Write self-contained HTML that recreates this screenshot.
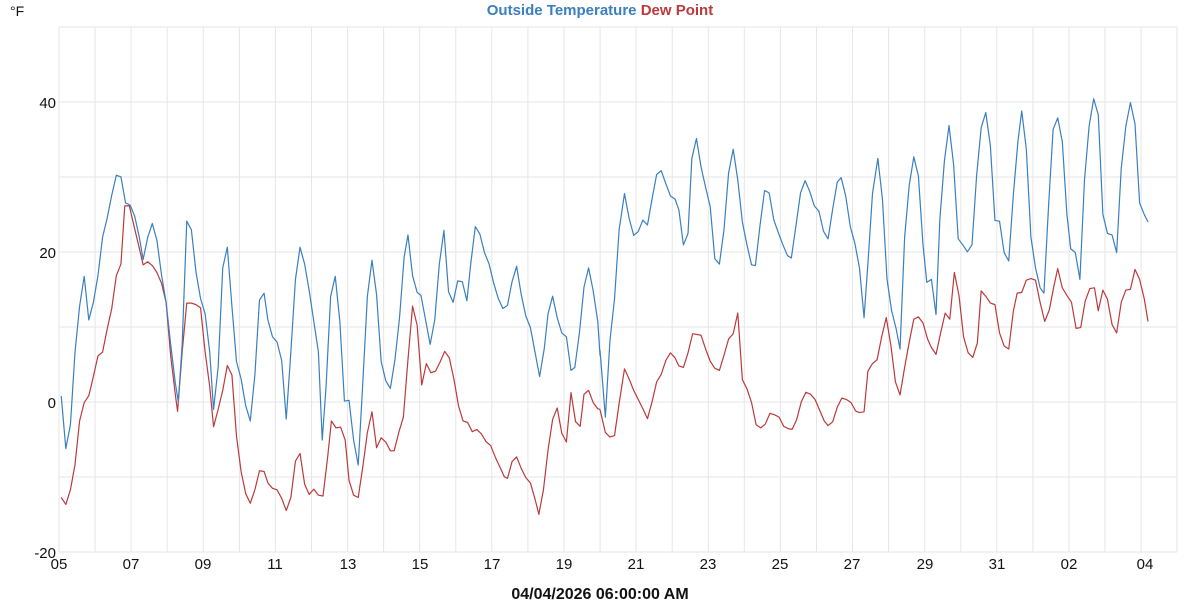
<!DOCTYPE html>
<html><head><meta charset="utf-8"><style>
body{margin:0;background:#fff;}
svg{display:block;font-family:"Liberation Sans",sans-serif;}
</style></head><body>
<svg width="1200" height="600" viewBox="0 0 1200 600">
<rect width="1200" height="600" fill="#fff"/>
<g stroke="#e6e6e6" stroke-width="1">
<line x1="59" y1="27" x2="1177" y2="27"/><line x1="59" y1="102" x2="1177" y2="102"/><line x1="59" y1="177" x2="1177" y2="177"/><line x1="59" y1="252" x2="1177" y2="252"/><line x1="59" y1="327" x2="1177" y2="327"/><line x1="59" y1="402" x2="1177" y2="402"/><line x1="59" y1="477" x2="1177" y2="477"/><line x1="59" y1="552" x2="1177" y2="552"/>
<line x1="1177" y1="27" x2="1177" y2="552"/>
<line x1="59" y1="27" x2="59" y2="552"/><line x1="95.1" y1="27" x2="95.1" y2="552"/><line x1="131.1" y1="27" x2="131.1" y2="552"/><line x1="167.2" y1="27" x2="167.2" y2="552"/><line x1="203.3" y1="27" x2="203.3" y2="552"/><line x1="239.4" y1="27" x2="239.4" y2="552"/><line x1="275.4" y1="27" x2="275.4" y2="552"/><line x1="311.5" y1="27" x2="311.5" y2="552"/><line x1="347.6" y1="27" x2="347.6" y2="552"/><line x1="383.6" y1="27" x2="383.6" y2="552"/><line x1="419.7" y1="27" x2="419.7" y2="552"/><line x1="455.8" y1="27" x2="455.8" y2="552"/><line x1="491.8" y1="27" x2="491.8" y2="552"/><line x1="527.9" y1="27" x2="527.9" y2="552"/><line x1="564" y1="27" x2="564" y2="552"/><line x1="600.1" y1="27" x2="600.1" y2="552"/><line x1="636.1" y1="27" x2="636.1" y2="552"/><line x1="672.2" y1="27" x2="672.2" y2="552"/><line x1="708.3" y1="27" x2="708.3" y2="552"/><line x1="744.3" y1="27" x2="744.3" y2="552"/><line x1="780.4" y1="27" x2="780.4" y2="552"/><line x1="816.5" y1="27" x2="816.5" y2="552"/><line x1="852.5" y1="27" x2="852.5" y2="552"/><line x1="888.6" y1="27" x2="888.6" y2="552"/><line x1="924.7" y1="27" x2="924.7" y2="552"/><line x1="960.8" y1="27" x2="960.8" y2="552"/><line x1="996.8" y1="27" x2="996.8" y2="552"/><line x1="1032.9" y1="27" x2="1032.9" y2="552"/><line x1="1069" y1="27" x2="1069" y2="552"/><line x1="1105" y1="27" x2="1105" y2="552"/><line x1="1141.1" y1="27" x2="1141.1" y2="552"/>
</g>
<g font-size="15" fill="#111">
<text x="10" y="16" font-size="14">°F</text>
<text x="56" y="108" text-anchor="end">40</text>
<text x="56" y="258" text-anchor="end">20</text>
<text x="56" y="408" text-anchor="end">0</text>
<text x="56" y="558" text-anchor="end">-20</text>
</g>
<g font-size="15" fill="#111" text-anchor="middle">
<text x="59" y="569">05</text><text x="131" y="569">07</text><text x="203" y="569">09</text><text x="275" y="569">11</text><text x="348" y="569">13</text><text x="420" y="569">15</text><text x="492" y="569">17</text><text x="564" y="569">19</text><text x="636" y="569">21</text><text x="708" y="569">23</text><text x="780" y="569">25</text><text x="852" y="569">27</text><text x="925" y="569">29</text><text x="997" y="569">31</text><text x="1069" y="569">02</text><text x="1145" y="569">04</text>
</g>
<text x="600" y="599" text-anchor="middle" font-size="16" font-weight="bold" fill="#111">04/04/2026 06:00:00 AM</text>
<text x="600" y="15" text-anchor="middle" font-size="15" font-weight="bold"><tspan fill="#3a7fc0">Outside Temperature</tspan> <tspan fill="#bb3a3c">Dew Point</tspan></text>
<g fill="none" stroke-width="1.2" stroke-linejoin="round">
<g transform="scale(0.3827)">
<polyline vector-effect="non-scaling-stroke" stroke="#bb3a3c" points="160,1300 172,1318 184,1280 196,1214 208,1100 220,1052 232,1034 244,984 256,930 268,920 280,860 292,806 304,720 316,690 326,538 338,538 350,590 362,640 374,692 386,684 398,694 410,712 422,740 434,790 446,930 458,1030 464,1075 476,920 488,792 500,792 512,796 524,804 536,920 548,1010 558,1115 570,1070 582,1020 594,955 606,980 618,1140 630,1232 642,1290 654,1315 666,1280 678,1230 690,1232 700,1262 712,1276 724,1280 736,1302 748,1334 760,1300 772,1205 784,1185 796,1265 808,1292 820,1278 832,1294 844,1296 856,1196 866,1100 878,1118 890,1116 902,1150 912,1255 924,1294 936,1300 948,1220 960,1130 972,1076 984,1170 996,1144 1008,1155 1020,1178 1030,1178 1042,1130 1054,1090 1066,940 1078,800 1090,850 1102,1006 1114,950 1126,974 1138,970 1150,946 1162,918 1174,935 1186,990 1198,1060 1210,1100 1222,1104 1234,1128 1246,1122 1258,1134 1270,1154 1282,1164 1294,1194 1306,1220 1318,1246 1326,1250 1338,1206 1350,1194 1362,1224 1374,1248 1386,1262 1398,1304 1408,1344 1420,1280 1432,1176 1444,1096 1456,1066 1468,1132 1480,1155 1492,1026 1504,1102 1516,1114 1526,1030 1538,1020 1550,1052 1562,1068 1568,1070"/>
<polyline vector-effect="non-scaling-stroke" stroke="#3a7fc0" points="160,1035 172,1172 184,1110 196,920 208,800 220,722 232,836 244,790 256,720 268,620 280,570 292,510 304,458 316,462 328,530 340,536 352,565 364,620 374,678 386,620 398,584 410,628 422,718 434,790 446,900 458,1000 466,1050 476,900 488,578 500,600 512,710 524,780 536,820 548,920 558,1070 570,960 582,700 594,646 606,800 618,945 630,990 642,1060 654,1100 666,980 678,784 690,766 700,836 712,880 724,894 736,942 748,1095 760,920 772,730 784,646 796,690 808,760 820,840 832,920 842,1150 852,1010 864,774 876,722 888,840 900,1048 912,1046 924,1150 936,1215 948,1000 960,774 972,680 984,770 996,945 1008,995 1020,1015 1032,940 1044,830 1056,672 1066,614 1078,720 1090,764 1100,772 1112,836 1124,900 1136,836 1148,690 1160,602 1172,762 1184,790 1196,734 1208,736 1220,786 1230,690 1242,592 1254,612 1266,660 1278,690 1290,740 1302,780 1314,806 1326,798 1338,736 1350,696 1362,770 1374,826 1386,856 1398,920 1410,984 1422,912 1432,820 1444,774 1456,830 1468,870 1480,880 1492,968 1502,960 1514,870 1526,750 1538,700 1550,760 1562,840 1568,930"/>
</g>
<g transform="translate(600,0) scale(0.3827)">
<polyline vector-effect="non-scaling-stroke" stroke="#bb3a3c" points="0,1070 14,1130 26,1142 38,1138 50,1054 64,964 76,990 88,1020 100,1044 112,1068 124,1094 136,1050 148,998 160,978 172,942 184,922 196,935 206,956 218,960 230,922 242,872 264,876 276,912 288,944 300,962 312,968 324,928 336,886 348,872 360,818 372,992 384,1016 396,1052 408,1110 420,1118 432,1108 444,1080 456,1084 468,1090 480,1114 492,1120 502,1122 514,1096 526,1050 538,1025 550,1030 562,1044 574,1072 586,1100 596,1112 608,1102 620,1064 632,1040 644,1044 656,1052 668,1074 678,1078 690,1076 700,970 712,950 724,940 736,880 748,830 760,902 772,998 784,1032 796,960 808,894 820,834 832,828 844,844 856,886 866,908 878,926 890,870 902,818 914,834 926,712 938,772 950,880 962,922 974,934 986,896 996,760 1008,774 1020,792 1032,796 1044,870 1056,904 1068,912 1080,814 1090,766 1102,764 1114,732 1126,728 1138,732 1150,790 1162,840 1174,810 1186,748 1196,702 1208,752 1220,772 1232,790 1244,858 1256,856 1268,786 1280,754 1292,752 1302,812 1314,758 1326,782 1338,848 1350,870 1362,790 1374,758 1386,756 1398,704 1410,730 1422,780 1432,840"/>
<polyline vector-effect="non-scaling-stroke" stroke="#3a7fc0" points="0,915 14,1090 26,890 38,780 50,600 64,506 76,570 88,615 100,605 112,575 124,588 136,520 148,456 160,446 172,480 184,512 196,520 206,548 218,640 230,610 240,414 252,362 264,436 276,490 288,540 300,676 312,690 324,600 336,452 348,390 360,470 372,580 384,640 396,692 406,694 418,590 430,498 442,504 454,574 466,608 478,640 490,668 500,674 512,590 524,504 536,472 548,500 560,538 572,552 584,604 596,624 608,546 620,476 630,464 642,512 654,592 666,636 678,700 690,830 700,690 712,506 726,414 738,520 750,730 762,812 774,860 784,912 796,620 808,484 820,410 832,460 844,640 854,738 866,730 878,822 888,574 900,420 912,328 924,430 936,624 948,640 960,658 972,640 984,460 996,334 1008,294 1020,380 1032,576 1044,578 1056,660 1068,682 1080,510 1092,370 1102,290 1114,390 1126,620 1138,700 1150,752 1160,766 1172,540 1184,338 1196,308 1208,370 1220,560 1230,650 1242,660 1254,730 1266,470 1278,330 1290,258 1302,300 1314,560 1326,610 1338,614 1350,660 1362,440 1374,330 1386,268 1398,324 1410,530 1422,560 1432,580"/>
</g>
</g>
</svg>
</body></html>
